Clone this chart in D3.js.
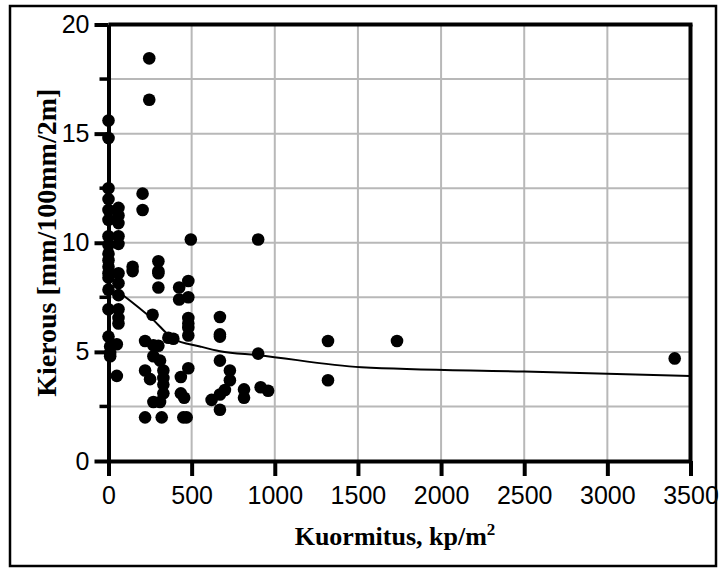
<!DOCTYPE html>
<html>
<head>
<meta charset="utf-8">
<script src="https://cdn.jsdelivr.net/npm/d3@7"></script>
<style>
  body { margin: 0; background: #fff; }
  svg { display: block; }
</style>
</head>
<body>
<svg id="chart" width="722" height="572"></svg>
<script>
// Load (kp/m²) for each test board
const loadValues = [
  0, 0, 0, 0, 0, 0, 0, 0, 0, 0, 0, 0, 0, 0, 0, 0, 10, 10, 10,
  50, 50,
  60, 60, 60, 60, 60, 60, 60, 60, 60, 60, 60,
  145, 145,
  205, 205,
  245, 245,
  220, 220, 250, 220,
  265,
  270, 270, 300, 310,
  300, 300, 300, 300,
  330, 330, 330, 330, 310, 270, 320,
  360, 390,
  425, 425,
  480, 480, 480, 480, 480, 480, 480,
  435, 435, 455, 450, 470,
  495,
  670, 670, 670, 670, 730, 730, 700, 670, 620, 670,
  815, 815,
  900, 900, 915, 960,
  1320, 1320,
  1735,
  3405
];
// Measured warp (mm/100mm/2m) for the same boards
const warpValues = [
  15.6, 14.8, 12.5, 12.0, 11.5, 11.05, 10.3, 9.9, 9.5, 9.2, 8.9, 8.6, 8.4, 7.85, 6.95, 5.7, 5.25, 4.95, 4.8,
  5.35, 3.9,
  11.6, 11.25, 10.9, 10.3, 9.95, 8.6, 8.15, 7.6, 6.95, 6.55, 6.3,
  8.9, 8.7,
  12.25, 11.5,
  18.45, 16.55,
  5.5, 4.15, 3.75, 2.0,
  6.7,
  5.3, 4.8, 5.28, 4.6,
  9.15, 8.7, 8.6, 7.95,
  4.15, 3.8, 3.5, 3.1, 2.7, 2.7, 2.0,
  5.65, 5.6,
  7.95, 7.4,
  8.25, 7.5, 6.55, 6.3, 6.1, 5.75, 4.25,
  3.85, 3.1, 2.9, 2.0, 2.0,
  10.15,
  6.6, 5.8, 5.7, 4.6, 4.15, 3.7, 3.25, 3.05, 2.8, 2.35,
  3.28, 2.9,
  10.15, 4.92, 3.38, 3.22,
  5.5, 3.7,
  5.5,
  4.7
];
// Mean trend curve
const trendLoad = [70, 265, 390, 550, 670, 900, 1520, 2500, 3500];
const trendWarp = [7.7, 6.5, 5.6, 5.25, 5.03, 4.85, 4.3, 4.1, 3.9];

const xTickValues = [0, 500, 1000, 1500, 2000, 2500, 3000, 3500];
const yTickValues = [0, 5, 10, 15, 20];
const yMinorValues = [2.5, 7.5, 12.5, 17.5];

const xAxisTitle = "Kuormitus, kp/m";
const xAxisTitleSup = "2";
const yAxisTitle = "Kierous [mm/100mm/2m]";

const svg = d3.select("#chart");

const x = d3.scaleLinear().domain([0, 3500]).range([108.5, 690.5]);
const y = d3.scaleLinear().domain([0, 20]).range([461, 24.5]);

// Outer frame
svg.append("rect")
  .attr("x", 10).attr("y", 6)
  .attr("width", 706).attr("height", 560)
  .attr("fill", "none").attr("stroke", "#000").attr("stroke-width", 2.5);

// Grid
const grid = svg.append("g").attr("stroke", "#b8b8b8").attr("stroke-width", 2);
grid.selectAll("line.v").data(xTickValues.slice(1, -1)).join("line")
  .attr("class", "v")
  .attr("x1", d => x(d)).attr("x2", d => x(d))
  .attr("y1", y(20)).attr("y2", y(0));
grid.selectAll("line.h").data([2.5, 5, 7.5, 10, 12.5, 15, 17.5]).join("line")
  .attr("class", "h")
  .attr("x1", x(0)).attr("x2", x(3500))
  .attr("y1", d => y(d)).attr("y2", d => y(d));

// Top and right frame of plot area
svg.append("line")
  .attr("x1", x(0)).attr("x2", x(3500) + 2)
  .attr("y1", y(20)).attr("y2", y(20))
  .attr("stroke", "#000").attr("stroke-width", 4);
svg.append("line")
  .attr("x1", x(3500)).attr("x2", x(3500))
  .attr("y1", y(20)).attr("y2", y(0))
  .attr("stroke", "#000").attr("stroke-width", 4);

const tickFont = "Liberation Sans, Arial, sans-serif";

// X axis
const xAxis = svg.append("g")
  .attr("transform", `translate(0,${y(0)})`)
  .call(d3.axisBottom(x).tickValues(xTickValues).tickFormat(d3.format("d"))
    .tickSize(15).tickPadding(10).tickSizeOuter(0));
xAxis.select(".domain").attr("stroke-width", 4);
xAxis.selectAll(".tick line").attr("stroke-width", 4);
xAxis.selectAll(".tick text")
  .attr("font-family", tickFont)
  .attr("font-size", 25).attr("fill", "#000");

// Y axis
const yAxis = svg.append("g")
  .attr("transform", `translate(${x(0)},0)`)
  .call(d3.axisLeft(y).tickValues(yTickValues).tickFormat(d3.format("d"))
    .tickSize(14).tickPadding(5).tickSizeOuter(0));
yAxis.select(".domain").attr("stroke-width", 4);
yAxis.selectAll(".tick line").attr("stroke-width", 4);
yAxis.selectAll(".tick text")
  .attr("font-family", tickFont)
  .attr("font-size", 25).attr("fill", "#000");
yAxis.selectAll("line.minor").data(yMinorValues).join("line")
  .attr("class", "minor")
  .attr("x1", -9).attr("x2", 0)
  .attr("y1", d => y(d)).attr("y2", d => y(d))
  .attr("stroke", "#000").attr("stroke-width", 3.5);

// Trend curve
const trend = trendLoad.map((d, i) => [d, trendWarp[i]]);
svg.append("path")
  .datum(trend)
  .attr("fill", "none").attr("stroke", "#000").attr("stroke-width", 2)
  .attr("d", d3.line().x(d => x(d[0])).y(d => y(d[1])).curve(d3.curveMonotoneX));

// Measured points
svg.append("g").selectAll("circle")
  .data(loadValues.map((d, i) => [d, warpValues[i]]))
  .join("circle")
  .attr("cx", d => x(d[0])).attr("cy", d => y(d[1]))
  .attr("r", 6.3).attr("fill", "#000");

// Axis titles
const xt = svg.append("text")
  .attr("x", 395).attr("y", 545)
  .attr("text-anchor", "middle")
  .attr("font-family", "Liberation Serif, Times New Roman, serif")
  .attr("font-weight", "bold").attr("font-size", 26);
xt.append("tspan").text(xAxisTitle);
xt.append("tspan").attr("dy", -10).attr("font-size", 17).text(xAxisTitleSup);

svg.append("text")
  .attr("transform", `translate(56,${(y(0) + y(20)) / 2}) rotate(-90)`)
  .attr("text-anchor", "middle")
  .attr("font-family", "Liberation Serif, Times New Roman, serif")
  .attr("font-weight", "bold").attr("font-size", 28)
  .text(yAxisTitle);
</script>
</body>
</html>
